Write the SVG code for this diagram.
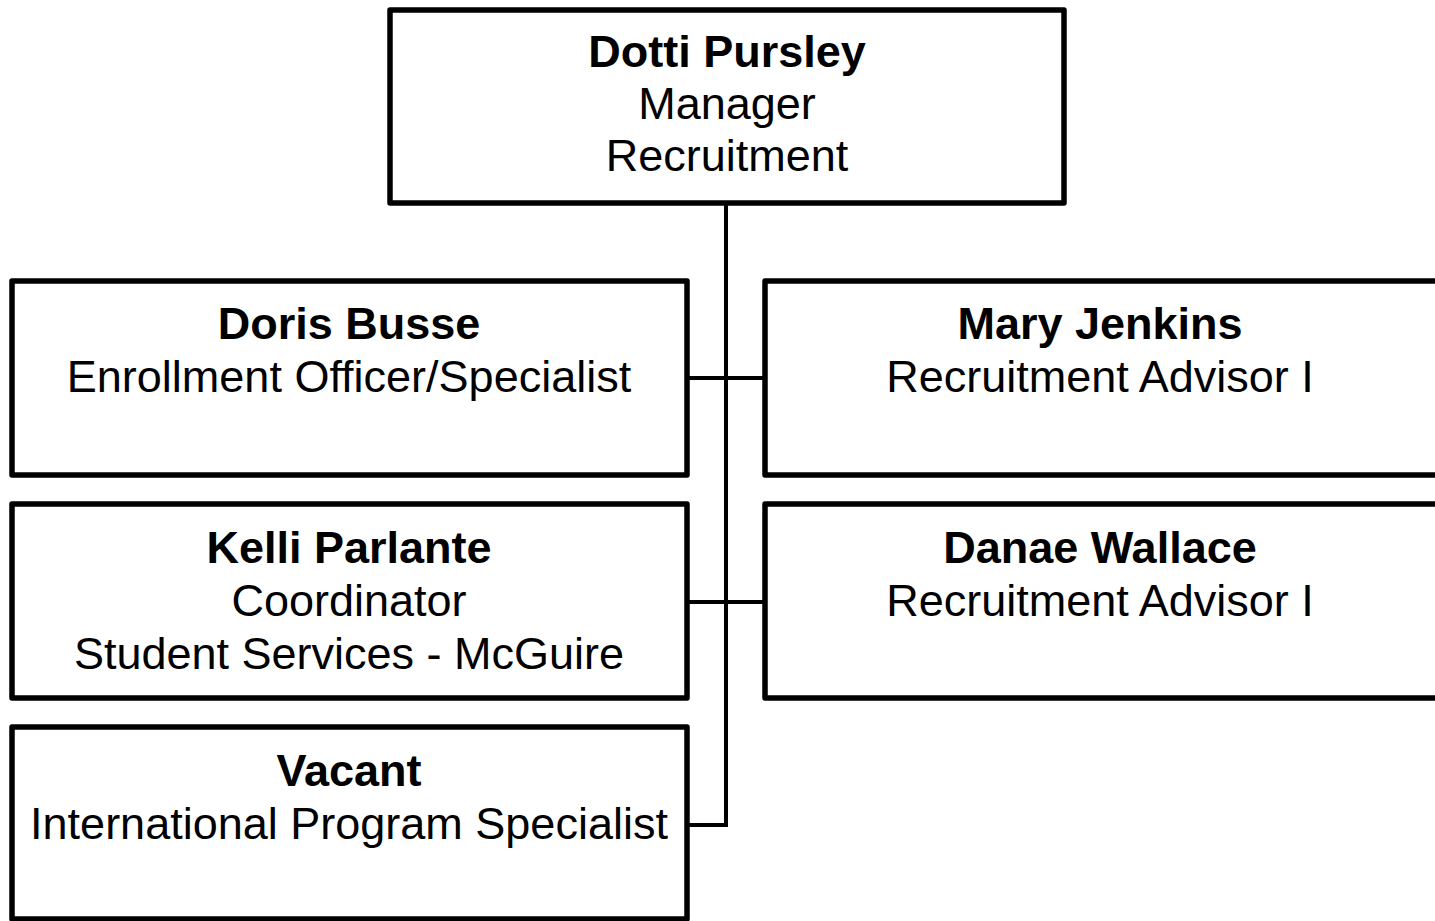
<svg xmlns="http://www.w3.org/2000/svg" width="1435" height="921" viewBox="0 0 1435 921">
<style>
.box{fill:#fff;stroke:#000;stroke-width:5.5;stroke-linejoin:round}
.t{font-family:"Liberation Sans",Arial,sans-serif;font-size:45px;text-anchor:middle;fill:#000}
.b{font-weight:bold}
.c{fill:none;stroke:#000;stroke-width:4}
</style>
<rect width="1435" height="921" fill="#fff"/>
<g id="connectors">
<path class="c" d="M726,203V825H688M688,378H765M688,602H765"/>
</g>
<g id="dotti">
<rect class="box" x="390" y="10" width="674" height="193"/>
<text class="t b" x="727" y="67">Dotti Pursley</text>
<text class="t" x="727" y="119">Manager</text>
<text class="t" x="727" y="171">Recruitment</text>
</g>
<g id="doris">
<rect class="box" x="12" y="281" width="675" height="194"/>
<text class="t b" x="349" y="339">Doris Busse</text>
<text class="t" x="349" y="392">Enrollment Officer/Specialist</text>
</g>
<g id="mary">
<rect class="box" x="765" y="281" width="680" height="194"/>
<text class="t b" x="1100" y="339">Mary Jenkins</text>
<text class="t" x="1100" y="392">Recruitment Advisor I</text>
</g>
<g id="kelli">
<rect class="box" x="12" y="504" width="675" height="194"/>
<text class="t b" x="349" y="563">Kelli Parlante</text>
<text class="t" x="349" y="616">Coordinator</text>
<text class="t" x="349" y="669">Student Services - McGuire</text>
</g>
<g id="danae">
<rect class="box" x="765" y="504" width="680" height="194"/>
<text class="t b" x="1100" y="563">Danae Wallace</text>
<text class="t" x="1100" y="616">Recruitment Advisor I</text>
</g>
<g id="vacant">
<rect class="box" x="12" y="727" width="675" height="192"/>
<text class="t b" x="349" y="786">Vacant</text>
<text class="t" x="349" y="839">International Program Specialist</text>
</g>
</svg>
